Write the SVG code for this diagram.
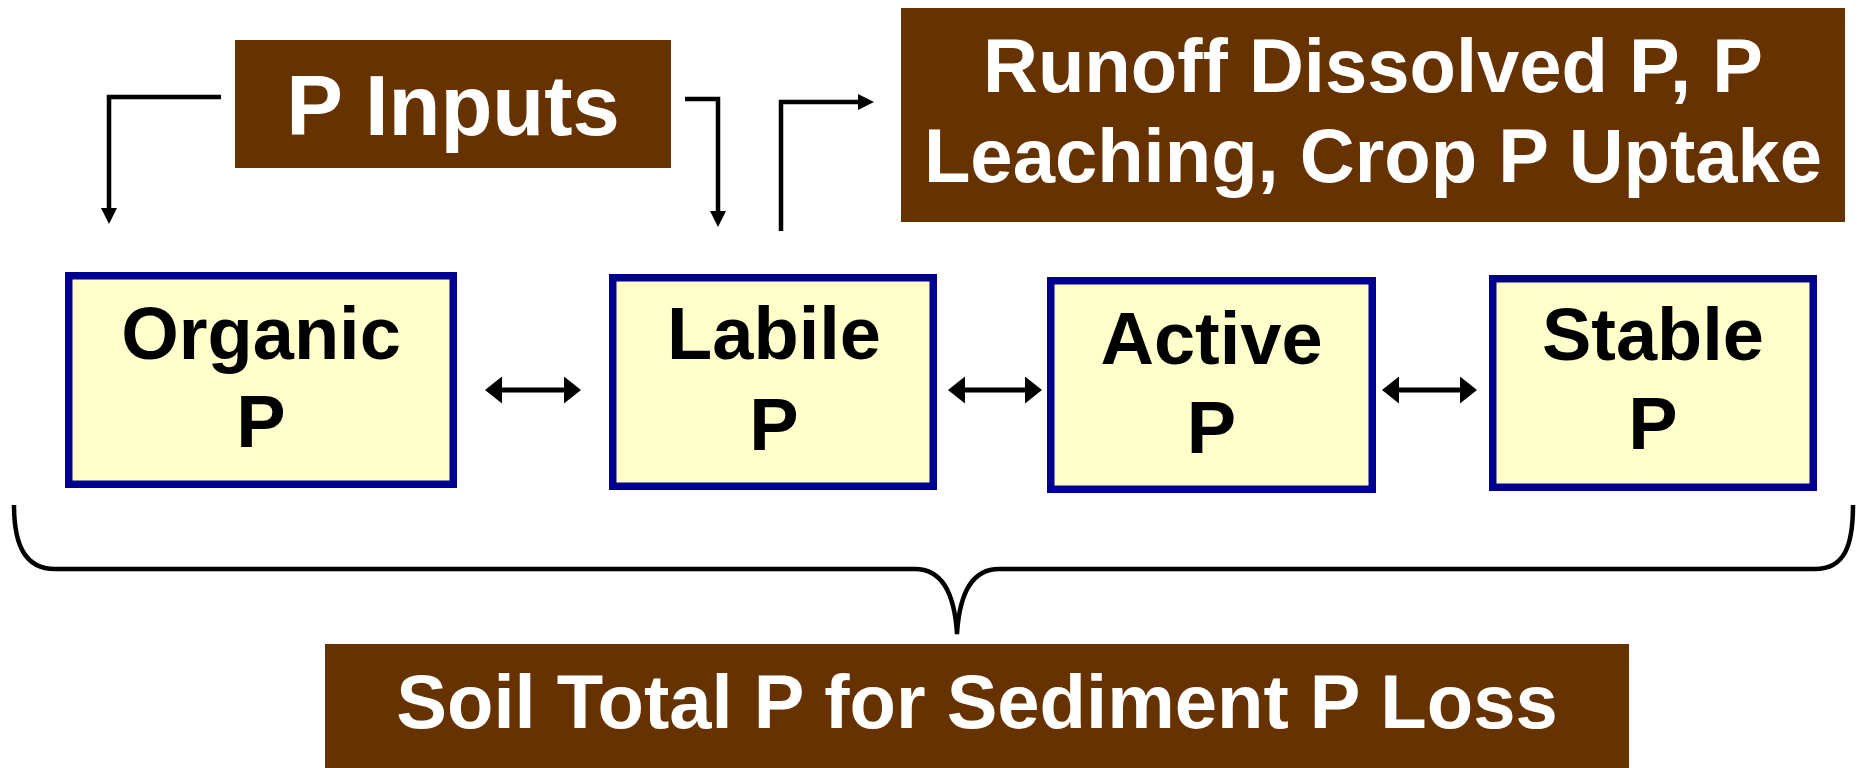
<svg xmlns="http://www.w3.org/2000/svg" width="1857" height="768" viewBox="0 0 1857 768">
<style>
.brown{fill:#663300}
.node{fill:#FFFFCC;stroke:#000090;stroke-width:7.5}
.wt{fill:#ffffff;font-family:"Liberation Sans",Arial,sans-serif;font-weight:bold;text-anchor:middle}
.bt{fill:#000000;font-family:"Liberation Sans",Arial,sans-serif;font-weight:bold;text-anchor:middle;font-size:74px}
.ln{fill:none;stroke:#000;stroke-width:4.5}
.dl{fill:none;stroke:#000;stroke-width:5}
</style>
<defs>
<marker id="ah" markerUnits="userSpaceOnUse" markerWidth="16" markerHeight="16" refX="0" refY="8" orient="auto" viewBox="0 0 16 16"><path d="M0,0 L16,8 L0,16 z" fill="#000"/></marker>
<marker id="dh" markerUnits="userSpaceOnUse" markerWidth="17" markerHeight="27" refX="0" refY="13.5" orient="auto-start-reverse" viewBox="0 0 17 27"><path d="M0,0 L17,13.5 L0,27 z" fill="#000"/></marker>
</defs>
<g id="p-inputs">
<rect class="brown" x="235" y="40" width="436" height="128"/>
<text class="wt" x="453" y="135" font-size="85">P Inputs</text>
</g>
<g id="runoff">
<rect class="brown" x="901" y="8" width="944" height="214"/>
<text class="wt" x="1373" y="92" font-size="76">Runoff Dissolved P, P</text>
<text class="wt" x="1373" y="182" font-size="76">Leaching, Crop P Uptake</text>
</g>
<g id="organic">
<rect class="node" x="68.75" y="275.75" width="384.5" height="208.5"/>
<text class="bt" x="261" y="359">Organic</text>
<text class="bt" x="261" y="447">P</text>
</g>
<g id="labile">
<rect class="node" x="612.75" y="277.75" width="320.5" height="208.5"/>
<text class="bt" x="774" y="359">Labile</text>
<text class="bt" x="774" y="450">P</text>
</g>
<g id="active">
<rect class="node" x="1050.75" y="280.75" width="321.5" height="208.5"/>
<text class="bt" x="1211.5" y="364">Active</text>
<text class="bt" x="1211.5" y="453">P</text>
</g>
<g id="stable">
<rect class="node" x="1492.75" y="278.75" width="320.5" height="208.5"/>
<text class="bt" x="1653" y="360">Stable</text>
<text class="bt" x="1653" y="449">P</text>
</g>
<g id="soil-total">
<rect class="brown" x="325" y="644" width="1304" height="124"/>
<text class="wt" x="977" y="728" font-size="76">Soil Total P for Sediment P Loss</text>
</g>
<g id="connectors">
<path class="ln" d="M221,97 H109 V208" marker-end="url(#ah)"/>
<path class="ln" d="M685,99 H718 V211" marker-end="url(#ah)"/>
<path class="ln" d="M781,231 V102 H858" marker-end="url(#ah)"/>
<path class="dl" d="M502,390 H564" marker-start="url(#dh)" marker-end="url(#dh)"/>
<path class="dl" d="M965,390 H1025" marker-start="url(#dh)" marker-end="url(#dh)"/>
<path class="dl" d="M1399,390 H1460" marker-start="url(#dh)" marker-end="url(#dh)"/>
<path class="ln" d="M14,505 C14,545 25,569 55,569 H915 C945,569 955,600 957,634 C959,600 969,569 999,569 H1815 C1845,569 1853,545 1853,505"/>
</g>
</svg>
